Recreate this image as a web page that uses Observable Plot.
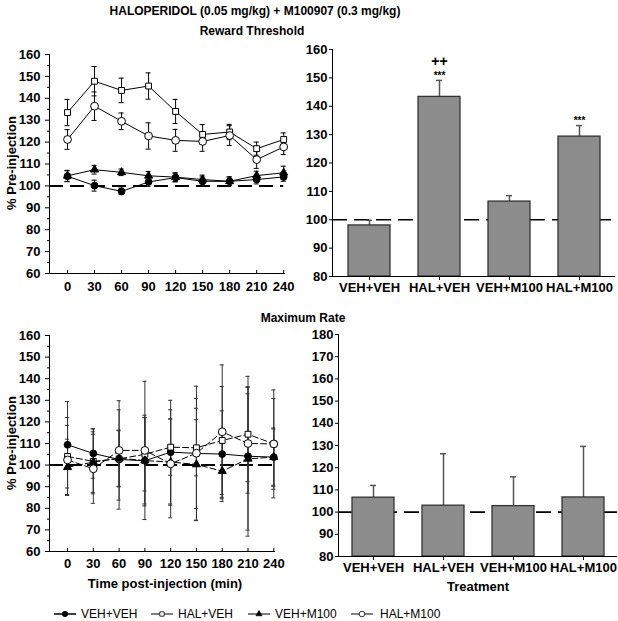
<!DOCTYPE html>
<html><head><meta charset="utf-8">
<script src="https://cdn.jsdelivr.net/npm/d3@7"></script>
<script src="https://cdn.jsdelivr.net/npm/@observablehq/plot@0.6"></script>
<style>
body{margin:0;background:#fff;}
#wrap{position:relative;width:618px;height:621px;font-family:"Liberation Sans",Arial,sans-serif;color:#000;overflow:hidden;}
.panel{position:absolute;}
.t{position:absolute;font-weight:bold;font-size:12px;white-space:nowrap;transform:translate(-50%,-50%);}
.leg{position:absolute;top:606px;left:0;width:618px;height:16px;font-size:12px;}
.leg span{position:absolute;top:0;line-height:16px;}
.leg svg{position:absolute;top:0;}
</style></head><body><div id="wrap"></div>
<script>
// ---------- data ----------
const times = [0, 30, 60, 90, 120, 150, 180, 210, 240];
const groups = ["VEH+VEH", "HAL+VEH", "VEH+M100", "HAL+M100"];

// Reward threshold time course (% pre-injection), mean and SEM
const rtVehVeh     = [104.4, 100.1, 97.5, 101.8, 103.8, 102.1, 102.1, 102.9, 104.1];
const rtVehVehErr  = [2.5, 2.5, 1.5, 2, 2, 2, 2, 2, 2];
const rtHalVeh     = [133.5, 147.8, 143.6, 145.6, 134, 123.5, 124.6, 117, 121.2];
const rtHalVehErr  = [6, 6.7, 5.6, 6, 5.5, 4.5, 3.5, 3, 3];
const rtVehM100    = [104.6, 107.4, 106.2, 104.6, 104, 102.9, 102.1, 104.7, 106];
const rtVehM100Err = [2.5, 2, 1.5, 2, 2, 2, 2, 2, 3];
const rtHalM100    = [121.2, 136.4, 129.5, 122.8, 120.8, 120.3, 123, 112, 117.8];
const rtHalM100Err = [4.5, 6.5, 3.8, 6, 5, 4.5, 4.5, 4, 3.5];

// Maximum rate time course
const mrVehVeh     = [109.4, 105.4, 102.6, 102, 106, 105.4, 105.1, 104.1, 103.7];
const mrVehVehErr  = [20, 11.5, 23, 20, 24, 25.5, 20, 37, 13.5];
const mrHalVeh     = [104, 101.7, 102.9, 105, 108.3, 108, 111.4, 114.3, 109.8];
const mrHalVehErr  = [18, 15, 13, 17, 13, 13, 25, 22, 21];
const mrVehM100    = [99, 101.4, 103.2, 102.1, 101.4, 100.3, 97.2, 102.9, 103.7];
const mrVehM100Err = [13, 14, 13, 21, 20, 26, 14, 33, 13];
const mrHalM100    = [102.4, 98.3, 106.8, 106.8, 100.6, 105.5, 115.4, 110, 109.8];
const mrHalM100Err = [16, 16, 23, 32, 25, 31, 31, 23, 25];

// Bar panels (mean over session)
const rtBar    = [98, 143.3, 106.4, 129.3];
const rtBarErr = [1.8, 5.8, 2.1, 3.9];
const rtStars  = ["", "***", "", "***"];
const rtPlus   = ["", "++", "", ""];
const mrBar    = [106.5, 102.9, 102.7, 106.6];
const mrBarErr = [5.5, 23.4, 13.2, 23];

const yTicksLine = d3.range(60, 161, 10);
const yMinorLine = d3.range(65, 160, 10);
const yTicksRT = d3.range(80, 161, 10);
const yTicksMR = d3.range(80, 181, 10);

// ---------- helpers ----------
const wrap = document.getElementById("wrap");
function place(node, left, top) {
  node.classList.add("panel");
  node.style.left = left + "px";
  node.style.top = top + "px";
  wrap.appendChild(node);
}
function txt(s, x, y, extra) {
  const d = document.createElement("div");
  d.className = "t";
  d.textContent = s;
  d.style.left = x + "px";
  d.style.top = y + "px";
  if (extra) Object.assign(d.style, extra);
  wrap.appendChild(d);
}
const rows = (vals, errs) => times.map((t, i) => ({t, v: vals[i], e: errs[i]}));
const baseStyle = {fontFamily: "'Liberation Sans', Arial, sans-serif", fontSize: "13px", fontWeight: "bold", background: "white", overflow: "visible"};

const symbolSpec = [
  {symbol: "circle", fill: "black", r: 3.4},
  {symbol: "square", fill: "white", r: 3.3},
  {symbol: "triangle", fill: "black", r: 3.0},
  {symbol: "circle", fill: "white", r: 3.9}
];

function linePanel({series, width, height, mL, mT, mB, mR, xDomain, dashes, errColor, cap, tickPad, refDash}) {
  const marks = [
    Plot.ruleX([xDomain[0]], {y1: 60, y2: 160, stroke: "black", strokeWidth: 1}),
    Plot.ruleY([60], {x1: xDomain[0], x2: xDomain[1], stroke: "black", strokeWidth: 1}),
    Plot.axisY({ticks: yTicksLine, tickSize: 4, tickPadding: 5, label: null}),
    Plot.axisY({ticks: yMinorLine, tickSize: 2, text: null, label: null}),
    Plot.axisX({ticks: times, tickSize: 0, tickPadding: tickPad, label: null}),
    Plot.ruleX(times, {x: d => d, y1: 60, y2: 61.4, stroke: "black"}),
    Plot.ruleY([100], {x1: xDomain[0], x2: 240, stroke: "black", strokeWidth: 2, strokeDasharray: refDash})
  ];
  series.forEach((s, i) => {
    marks.push(Plot.line(s, {x: "t", y: "v", stroke: "black", strokeWidth: 1, strokeDasharray: dashes[i]}));
  });
  series.forEach(s => {
    marks.push(Plot.ruleX(s, {x: "t", y1: d => d.v - d.e, y2: d => d.v + d.e, stroke: errColor, strokeWidth: 1}));
    marks.push(Plot.ruleY(s, {y: d => d.v + d.e, x1: d => d.t - cap, x2: d => d.t + cap, stroke: errColor, strokeWidth: 1}));
    marks.push(Plot.ruleY(s, {y: d => d.v - d.e, x1: d => d.t - cap, x2: d => d.t + cap, stroke: errColor, strokeWidth: 1}));
  });
  series.forEach((s, i) => {
    const sp = symbolSpec[i];
    marks.push(Plot.dot(s, {x: "t", y: "v", symbol: sp.symbol, fill: sp.fill, stroke: "black", strokeWidth: 1, r: sp.r}));
  });
  return Plot.plot({
    width, height, marginLeft: mL, marginTop: mT, marginBottom: mB, marginRight: mR,
    x: {domain: xDomain}, y: {domain: [60, 160]},
    style: baseStyle, marks
  });
}

function barPanel({vals, errs, width, height, mL, mT, mB, mR, yDomain, yTicks, po, stars, plus}) {
  const data = groups.map((g, i) => ({g, v: vals[i], e: errs[i], s: stars ? stars[i] : "", p: plus ? plus[i] : ""}));
  const marks = [
    Plot.frame({anchor: "left", stroke: "black", strokeWidth: 1}),
    Plot.axisY({ticks: yTicks, tickSize: 3, tickPadding: 2, label: null}),
    Plot.axisX({tickSize: 4, tickPadding: 2, label: null}),
    Plot.ruleY([100], {stroke: "black", strokeWidth: 1.6, strokeDasharray: "15,7"}),
    Plot.ruleX(data, {x: "g", y1: "v", y2: d => d.v + d.e, stroke: "#555", strokeWidth: 1.5}),
    Plot.tickY(data, {x: "g", y: d => d.v + d.e, stroke: "#555", strokeWidth: 1.5, insetLeft: 18, insetRight: 18}),
    Plot.barY(data, {x: "g", y1: yDomain[0], y2: "v", fill: "#8c8c8c", stroke: "#333", strokeWidth: 1.3}),
    Plot.ruleY([yDomain[0]], {stroke: "black", strokeWidth: 1})
  ];
  if (stars) {
    marks.push(Plot.text(data, {x: "g", y: d => d.v + d.e, text: "s", dy: -5, fontSize: 10, fontWeight: "bold"}));
    marks.push(Plot.text(data, {x: "g", y: d => d.v + d.e, text: "p", dy: -19, fontSize: 14, fontWeight: "bold"}));
  }
  return Plot.plot({
    width, height, marginLeft: mL, marginTop: mT, marginBottom: mB, marginRight: mR,
    x: {domain: groups, paddingInner: 0.4, paddingOuter: po},
    y: {domain: yDomain},
    style: baseStyle,
    marks
  });
}

// ---------- panels ----------
const seriesRT = [rows(rtVehVeh, rtVehVehErr), rows(rtHalVeh, rtHalVehErr), rows(rtVehM100, rtVehM100Err), rows(rtHalM100, rtHalM100Err)];
const seriesMR = [rows(mrVehVeh, mrVehVehErr), rows(mrHalVeh, mrHalVehErr), rows(mrVehM100, mrVehM100Err), rows(mrHalM100, mrHalM100Err)];

place(linePanel({series: seriesRT, width: 300, height: 262, mL: 49, mT: 14, mB: 29, mR: 15,
  xDomain: [-20, 242], dashes: [null, null, null, null], errColor: "black", cap: 2.8, tickPad: 8, refDash: "14,7"}), 0, 40);

place(linePanel({series: seriesMR, width: 300, height: 290, mL: 49, mT: 35, mB: 39, mR: 25,
  xDomain: [-21, 242], dashes: [null, "6,3", "6,3", "6,3"], errColor: "#333", cap: 2.4, tickPad: 7, refDash: "14,5"}), 0, 300);

place(barPanel({vals: rtBar, errs: rtBarErr, width: 318, height: 262, mL: 32, mT: 9, mB: 26, mR: 3,
  yDomain: [80, 160], yTicks: yTicksRT, po: 0.22, stars: rtStars, plus: rtPlus}), 300, 40);
place(barPanel({vals: mrBar, errs: mrBarErr, width: 318, height: 290, mL: 38, mT: 34, mB: 34, mR: 1,
  yDomain: [80, 180], yTicks: yTicksMR, po: 0.19}), 300, 300);

// ---------- text ----------
txt("HALOPERIDOL (0.05 mg/kg) + M100907 (0.3 mg/kg)", 255, 11);
txt("Reward Threshold", 252, 31);
txt("Maximum Rate", 303, 318);
txt("% Pre-injection", 11, 163, {transform: "translate(-50%,-50%) rotate(-90deg)", fontSize: "13px"});
txt("% Pre-injection", 11, 443, {transform: "translate(-50%,-50%) rotate(-90deg)", fontSize: "13px"});
txt("Time post-injection (min)", 165, 583, {fontSize: "13px"});
txt("Treatment", 478, 586, {fontSize: "13px"});

// ---------- legend ----------
const leg = document.createElement("div");
leg.className = "leg";
const legItems = [{x: 53, tx: 81}, {x: 150, tx: 178}, {x: 247, tx: 275}, {x: 350, tx: 380}];
const symSizes = [Math.PI * 7, Math.PI * 6, Math.PI * 5, Math.PI * 8];
groups.forEach((g, i) => {
  const sp = symbolSpec[i];
  const ns = "http://www.w3.org/2000/svg";
  const s = document.createElementNS(ns, "svg");
  s.setAttribute("width", 26); s.setAttribute("height", 16);
  s.style.left = legItems[i].x + "px";
  const ln = document.createElementNS(ns, "line");
  ln.setAttribute("x1", 1); ln.setAttribute("x2", 23); ln.setAttribute("y1", 8); ln.setAttribute("y2", 8);
  ln.setAttribute("stroke", "black"); ln.setAttribute("stroke-width", i === 0 ? 1.5 : 1);
  s.appendChild(ln);
  const type = sp.symbol === "circle" ? d3.symbolCircle : sp.symbol === "square" ? d3.symbolSquare : d3.symbolTriangle;
  const p = document.createElementNS(ns, "path");
  p.setAttribute("d", d3.symbol(type, symSizes[i])());
  p.setAttribute("transform", "translate(12,8)");
  p.setAttribute("fill", sp.fill); p.setAttribute("stroke", "black"); p.setAttribute("stroke-width", 0.8);
  s.appendChild(p);
  leg.appendChild(s);
  const sp2 = document.createElement("span");
  sp2.textContent = g; sp2.style.left = legItems[i].tx + "px";
  leg.appendChild(sp2);
});
wrap.appendChild(leg);
</script></body></html>
